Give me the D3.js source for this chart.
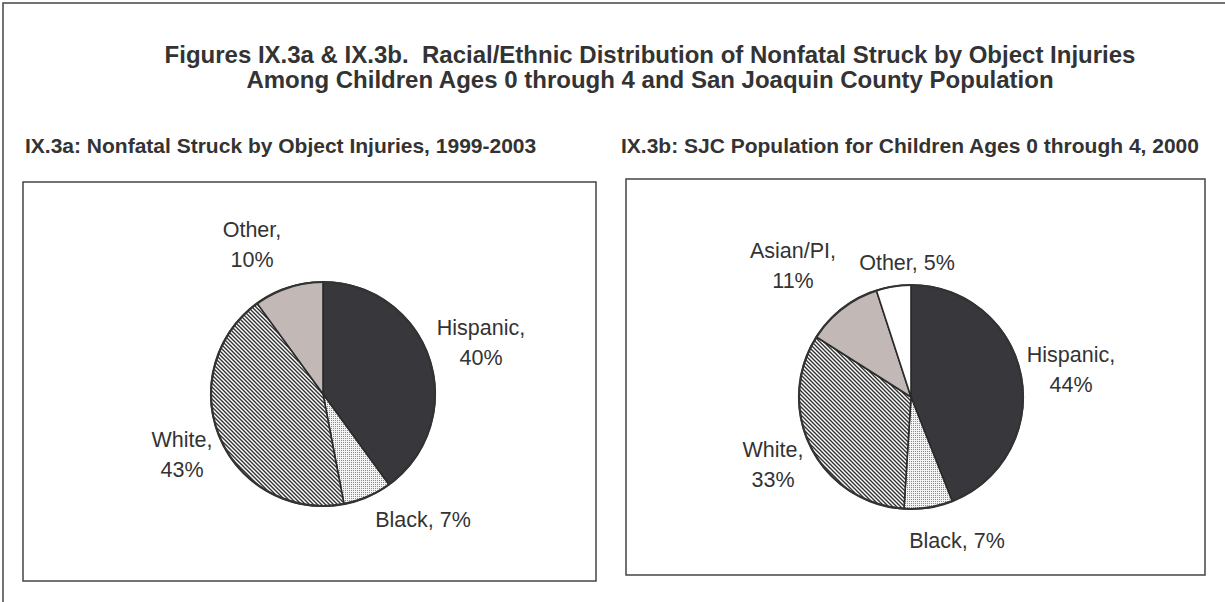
<!DOCTYPE html>
<html>
<head>
<meta charset="utf-8">
<script src="https://cdn.jsdelivr.net/npm/d3@7/dist/d3.min.js"></script>
<style>
  body { margin: 0; background: #fff; }
  text { font-family: "Liberation Sans", Arial, sans-serif; fill: #333; }
</style>
</head>
<body>
<div id="chart"></div>
<script>
// data
const categoriesA = ["Hispanic", "Black", "White", "Other"];
const valuesA = [40, 7, 43, 10];
const categoriesB = ["Hispanic", "Black", "White", "Asian/PI", "Other"];
const valuesB = [44, 7, 33, 11, 5];

const fills = {
    "Hispanic": "#38373b",
    "Black": "url(#dots)",
    "White": "url(#stripes)",
    "Other": "#c2b9b6",
    "Asian/PI": "#c2b9b6",
};
const fillsB = Object.assign({}, fills, { "Other": "#ffffff" });

// label positions (relative to pie center, first baseline) and line splitting
const labelsA = {
    "Hispanic": { dx: 158, dy: -59, lines: ["Hispanic,", "40%"] },
    "Black": { dx: 100, dy: 133, lines: ["Black, 7%"] },
    "White": { dx: -141, dy: 53, lines: ["White,", "43%"] },
    "Other": { dx: -71, dy: -157, lines: ["Other,", "10%"] },
};
const labelsB = {
    "Hispanic": { dx: 160, dy: -35, lines: ["Hispanic,", "44%"] },
    "Black": { dx: 46, dy: 151, lines: ["Black, 7%"] },
    "White": { dx: -138, dy: 60, lines: ["White,", "33%"] },
    "Asian/PI": { dx: -118, dy: -139, lines: ["Asian/PI,", "11%"] },
    "Other": { dx: -4, dy: -127, lines: ["Other, 5%"] },
};

const W = 1225, H = 602;
const svg = d3.select("#chart").append("svg")
    .attr("width", W).attr("height", H);

let defs = svg.append("defs");
let stripes = defs.append("pattern")
    .attr("id", "stripes")
    .attr("patternUnits", "userSpaceOnUse")
    .attr("width", 4).attr("height", 4);
stripes.append("rect").attr("width", 4).attr("height", 4).attr("fill", "#fff");
stripes.append("path")
    .attr("d", "M-1,-1 L5,5 M-1,3 L1,5 M3,-1 L5,1")
    .attr("stroke", "#333").attr("stroke-width", 1.4);

let dots = defs.append("pattern")
    .attr("id", "dots")
    .attr("patternUnits", "userSpaceOnUse")
    .attr("width", 2).attr("height", 2);
dots.append("rect").attr("width", 2).attr("height", 2).attr("fill", "#f4f4f4");
dots.append("rect").attr("width", 1).attr("height", 1).attr("fill", "#8a8a8a");

// outer frame
svg.append("rect")
    .attr("x", 3).attr("y", 3).attr("width", W + 10).attr("height", H + 10)
    .attr("fill", "none").attr("stroke", "#444").attr("stroke-width", 1.5);

// titles
svg.append("text")
    .attr("x", 650).attr("y", 63)
    .attr("text-anchor", "middle")
    .attr("font-size", 24).attr("font-weight", "bold")
    .attr("xml:space", "preserve")
    .text("Figures IX.3a & IX.3b.  Racial/Ethnic Distribution of Nonfatal Struck by Object Injuries");
svg.append("text")
    .attr("x", 650).attr("y", 88)
    .attr("text-anchor", "middle")
    .attr("font-size", 24).attr("font-weight", "bold")
    .text("Among Children Ages 0 through 4 and San Joaquin County Population");

function drawPanel(opts) {
    let g = svg.append("g");

    g.append("text")
        .attr("x", opts.titleX).attr("y", opts.titleY)
        .attr("font-size", 21).attr("font-weight", "bold")
        .text(opts.title);

    g.append("rect")
        .attr("x", opts.box[0]).attr("y", opts.box[1])
        .attr("width", opts.box[2]).attr("height", opts.box[3])
        .attr("fill", "#fff").attr("stroke", "#444").attr("stroke-width", 1.5);

    let pie = d3.pie().sort(null).value(d => d.value);
    let arc = d3.arc().innerRadius(0).outerRadius(opts.r);
    let data = opts.categories.map((c, i) => ({ name: c, value: opts.values[i] }));

    let pg = g.append("g").attr("transform", "translate(" + opts.cx + "," + opts.cy + ")");
    pg.selectAll("path.slice")
        .data(pie(data))
        .enter().append("path")
        .attr("class", "slice")
        .attr("d", arc)
        .attr("fill", d => opts.fills[d.data.name])
        .attr("stroke", "#2a2a2a")
        .attr("stroke-width", 1.6)
        .attr("stroke-linejoin", "round");

    // outer rim
    pg.append("circle").attr("r", opts.r)
        .attr("fill", "none").attr("stroke", "#333").attr("stroke-width", 2.2);

    for (let d of data) {
        let lab = opts.labels[d.name];
        let t = pg.append("text")
            .attr("text-anchor", "middle")
            .attr("font-size", 21.5)
            .attr("x", lab.dx).attr("y", lab.dy);
        lab.lines.forEach((line, i) => {
            t.append("tspan")
                .attr("x", lab.dx)
                .attr("dy", i === 0 ? 0 : 30)
                .text(line);
        });
    }
}

drawPanel({
    title: "IX.3a: Nonfatal Struck by Object Injuries, 1999-2003",
    titleX: 25, titleY: 153,
    box: [23, 182, 573, 399],
    cx: 323, cy: 394, r: 112,
    categories: categoriesA, values: valuesA,
    fills: fills, labels: labelsA,
});

drawPanel({
    title: "IX.3b: SJC Population for Children Ages 0 through 4, 2000",
    titleX: 621, titleY: 153,
    box: [626, 179, 579, 396],
    cx: 911, cy: 397, r: 112,
    categories: categoriesB, values: valuesB,
    fills: fillsB, labels: labelsB,
});
</script>
</body>
</html>
